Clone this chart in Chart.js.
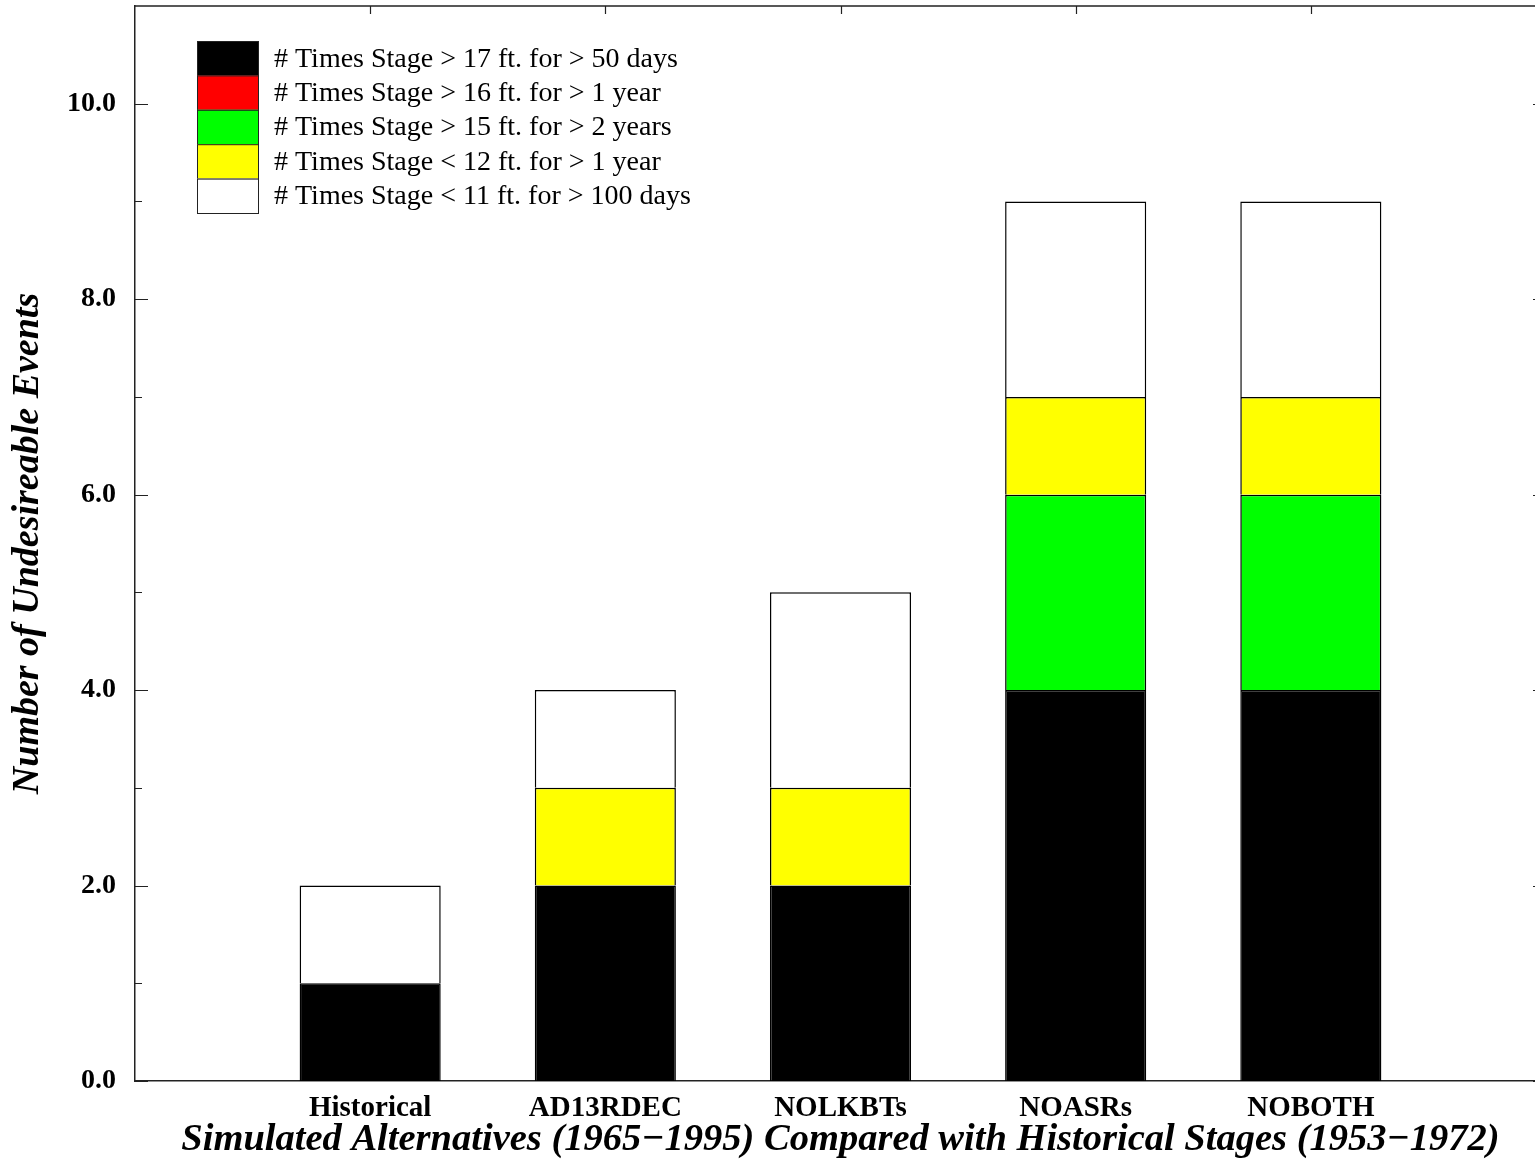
<!DOCTYPE html>
<html>
<head>
<meta charset="utf-8">
<script src="https://cdn.jsdelivr.net/npm/chart.js@4/dist/chart.umd.min.js"></script>
<style>
  html, body { margin: 0; padding: 0; background: #fff; }
  #wrap { width: 1535px; height: 1161px; overflow: hidden; }
  #holder { width: 1546px; height: 1161px; }
</style>
</head>
<body>
<div id="wrap"><div id="holder"><canvas id="stageChart" width="1546" height="1161"></canvas></div></div>
<script>
// categories (blank slots at both ends keep the spacing of the original plot)
const categories = ['Historical', 'AD13RDEC', 'NOLKBTs', 'NOASRs', 'NOBOTH'];
const labels = ['', ...categories, ''];

// stacked from the bottom up
const above17ft50days = [1, 2, 2, 4, 4];
const above16ft1year = [0, 0, 0, 0, 0];
const above15ft2years = [0, 0, 0, 2, 2];
const below12ft1year = [0, 1, 1, 1, 1];
const below11ft100days = [1, 1, 2, 2, 2];

const yTicks = [0, 2, 4, 6, 8, 10];
const yMinorTicks = [1, 3, 5, 7, 9];

const series = [
  { label: '# Times Stage > 17 ft. for > 50 days', values: above17ft50days, color: '#000000' },
  { label: '# Times Stage > 16 ft. for > 1 year', values: above16ft1year, color: '#ff0000' },
  { label: '# Times Stage > 15 ft. for > 2 years', values: above15ft2years, color: '#00ff00' },
  { label: '# Times Stage < 12 ft. for > 1 year', values: below12ft1year, color: '#ffff00' },
  { label: '# Times Stage < 11 ft. for > 100 days', values: below11ft100days, color: '#ffffff' },
];

const SERIF = '"Liberation Serif", "Times New Roman", serif';
const pad = (arr) => [null, ...arr, null];

// legend box drawn inside the plot, plus inward tick marks and the top frame line
const framePlugin = {
  id: 'framePlugin',
  afterDraw(chart) {
    const ctx = chart.ctx;
    const area = chart.chartArea;
    const x = chart.scales.x;
    const y = chart.scales.y;
    ctx.save();
    ctx.strokeStyle = '#222';
    ctx.lineWidth = 1.5;
    ctx.beginPath();
    ctx.moveTo(area.left, area.top);
    ctx.lineTo(area.right, area.top);
    ctx.lineTo(area.right, area.bottom);
    ctx.stroke();

    ctx.lineWidth = 1.2;
    ctx.beginPath();
    yTicks.forEach((v) => {
      const py = Math.round(y.getPixelForValue(v)) + 0.5;
      ctx.moveTo(area.left, py);
      ctx.lineTo(area.left + 13, py);
      ctx.moveTo(area.right, py);
      ctx.lineTo(area.right - 13, py);
    });
    yMinorTicks.forEach((v) => {
      const py = Math.round(y.getPixelForValue(v)) + 0.5;
      ctx.moveTo(area.left, py);
      ctx.lineTo(area.left + 7, py);
    });
    categories.forEach((c, i) => {
      const px = Math.round(x.getPixelForValue(i + 1)) + 0.5;
      ctx.moveTo(px, area.top);
      ctx.lineTo(px, area.top + 8);
    });
    ctx.stroke();

    const boxX = 197, boxW = 61, rowH = 34.4, startY = 41;
    ctx.font = '28px ' + SERIF;
    ctx.textBaseline = 'middle';
    ctx.textAlign = 'left';
    series.forEach((s, i) => {
      const top = startY + i * rowH;
      ctx.fillStyle = s.color;
      ctx.fillRect(boxX, top, boxW, rowH);
      ctx.lineWidth = 1;
      ctx.strokeStyle = '#222';
      ctx.strokeRect(boxX + 0.5, top + 0.5, boxW, rowH);
      ctx.fillStyle = '#000';
      ctx.fillText(s.label, 274, top + rowH / 2 + 1);
    });
    ctx.restore();
  },
};

const ctx = document.getElementById('stageChart');
const stageChart = new Chart(ctx, {
  type: 'bar',
  data: {
    labels: labels,
    datasets: series.map((s) => ({
      label: s.label,
      data: pad(s.values),
      backgroundColor: s.color,
      borderColor: '#000',
      borderWidth: { top: 1.5, left: 1.5, right: 1.5, bottom: 0 },
      borderSkipped: false,
      categoryPercentage: 1,
      barPercentage: 0.6,
    })),
  },
  options: {
    responsive: false,
    animation: false,
    layout: { padding: { top: 6, right: 0, left: 0, bottom: 0 } },
    scales: {
      x: {
        stacked: true,
        offset: false,
        grid: { display: false, drawTicks: false },
        border: { display: true, color: '#222', width: 1.5 },
        ticks: {
          padding: 10,
          autoSkip: false,
          maxRotation: 0,
          color: '#000',
          font: { size: 29, weight: 'bold', family: SERIF },
        },
        title: {
          display: true,
          text: 'Simulated Alternatives (1965\u22121995) Compared with Historical Stages (1953\u22121972)',
          color: '#000',
          padding: { top: 0, bottom: 0 },
          font: { size: 38.5, weight: 'bold', style: 'italic', family: SERIF, lineHeight: 1.08 },
        },
        afterFit: (scale) => {
          scale.height = 80;
          scale.paddingLeft = 0;
          scale.paddingRight = 0;
        },
      },
      y: {
        stacked: true,
        min: 0,
        max: 11,
        grid: { display: false, drawTicks: false },
        border: { display: true, color: '#222', width: 1.5 },
        afterBuildTicks: (scale) => { scale.ticks = yTicks.map((v) => ({ value: v })); },
        ticks: {
          padding: 19,
          color: '#000',
          callback: (value) => value.toFixed(1),
          font: { size: 28, weight: 'bold', family: SERIF },
        },
        title: {
          display: true,
          text: 'Number of Undesireable Events',
          color: '#000',
          padding: { top: 5, bottom: 0 },
          font: { size: 38, weight: 'bold', style: 'italic', family: SERIF, lineHeight: 1.2 },
        },
        afterFit: (scale) => {
          scale.width = 135;
          scale.paddingTop = 0;
          scale.paddingBottom = 0;
        },
      },
    },
    plugins: {
      legend: { display: false },
      tooltip: { enabled: false },
    },
  },
  plugins: [framePlugin],
});
</script>
</body>
</html>
